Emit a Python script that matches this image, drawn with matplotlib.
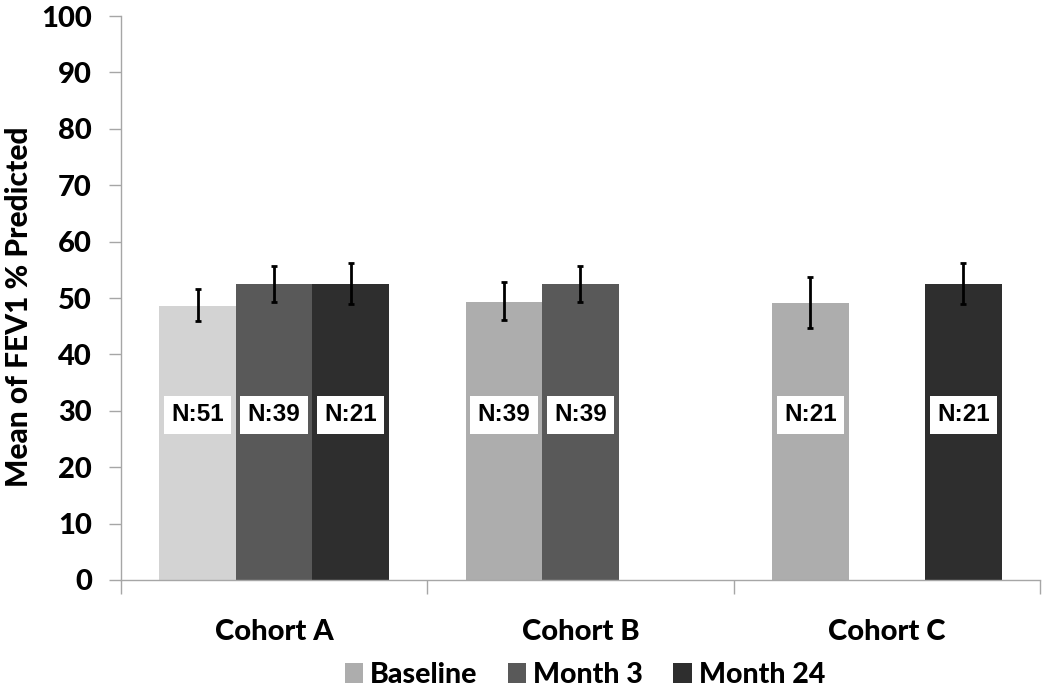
import numpy as np
import matplotlib
matplotlib.use("Agg")
import matplotlib.pyplot as plt
from matplotlib.patches import Patch

# data
cohorts = ["Cohort A", "Cohort B", "Cohort C"]
series = ["Baseline", "Month 3", "Month 24"]
means = {
    "Baseline": [48.6, 49.3, 49.1],
    "Month 3": [52.5, 52.4, None],
    "Month 24": [52.5, None, 52.5],
}
err_low = {
    "Baseline": [45.9, 46.1, 44.6],
    "Month 3": [49.3, 49.3, None],
    "Month 24": [48.9, None, 48.9],
}
err_high = {
    "Baseline": [51.6, 52.8, 53.7],
    "Month 3": [55.7, 55.7, None],
    "Month 24": [56.2, None, 56.2],
}
counts = {
    "Baseline": [51, 39, 21],
    "Month 3": [39, 39, None],
    "Month 24": [21, None, 21],
}

colors = {"Baseline": "#adadad", "Month 3": "#595959", "Month 24": "#2e2e2e"}
first_baseline_color = "#d3d3d3"
offsets = {"Baseline": -0.25, "Month 3": 0.0, "Month 24": 0.25}
width = 0.25

main_font = ["Lato", "DejaVu Sans"]
box_font = ["Liberation Sans", "DejaVu Sans"]
heavy = "black"

fig = plt.figure(figsize=(10.5, 6.97), dpi=100)
ax = fig.add_axes([0.1152, 0.1679, 0.8753, 0.8091])

for s in series:
    for i, m in enumerate(means[s]):
        if m is None:
            continue
        x = i + offsets[s]
        c = colors[s]
        if s == "Baseline" and i == 0:
            c = first_baseline_color
        ax.bar(x, m, width=width, color=c, edgecolor="none", zorder=2)
        lo = m - err_low[s][i]
        hi = err_high[s][i] - m
        ax.errorbar(x, m, yerr=[[lo], [hi]], fmt="none", ecolor="black",
                    elinewidth=2, capsize=2, capthick=2, zorder=3)
        ax.text(x, 29.3, "N:%d" % counts[s][i], ha="center", va="center",
                fontsize=17.5, fontweight="bold", family=box_font, zorder=4,
                bbox=dict(boxstyle="square,pad=0.3", fc="white", ec="none"))

ax.set_xlim(-0.5, 2.5)
ax.set_ylim(0, 100)
ax.set_yticks(np.arange(0, 101, 10))
for lab in ax.get_yticklabels():
    lab.set_fontsize(21)
    lab.set_fontweight(heavy)
    lab.set_family(main_font)
ax.tick_params(axis="y", length=9, width=1, color="#a6a6a6", pad=12)

# category separators as major ticks, names as minor ticks
ax.set_xticks([-0.5, 0.5, 1.5, 2.5])
ax.set_xticklabels([])
ax.tick_params(axis="x", which="major", direction="out", length=10,
               width=1, color="#a6a6a6")
ax.set_xticks([0, 1, 2], minor=True)
ax.set_xticklabels(cohorts, minor=True, fontsize=21, fontweight=heavy,
                   family=main_font)
ax.tick_params(axis="x", which="minor", length=0, pad=28)

for sp in ["top", "right"]:
    ax.spines[sp].set_visible(False)
for sp in ["left", "bottom"]:
    ax.spines[sp].set_color("#a6a6a6")
    ax.spines[sp].set_linewidth(1)

ax.set_ylabel("Mean of FEV1 % Predicted", fontsize=21.5, fontweight=heavy,
              family=main_font, labelpad=3)
ax.yaxis.set_label_coords(-0.096, 0.484)

handles = [Patch(facecolor=colors[s], edgecolor="none") for s in series]
fig.legend(handles, series, loc="center", bbox_to_anchor=(0.557, 0.031),
           ncol=3, frameon=False, handlelength=0.65, handleheight=0.7,
           handletextpad=0.25, columnspacing=1.05,
           prop=dict(size=20.5, weight=heavy, family=main_font))

fig.savefig("out.png", dpi=100)
